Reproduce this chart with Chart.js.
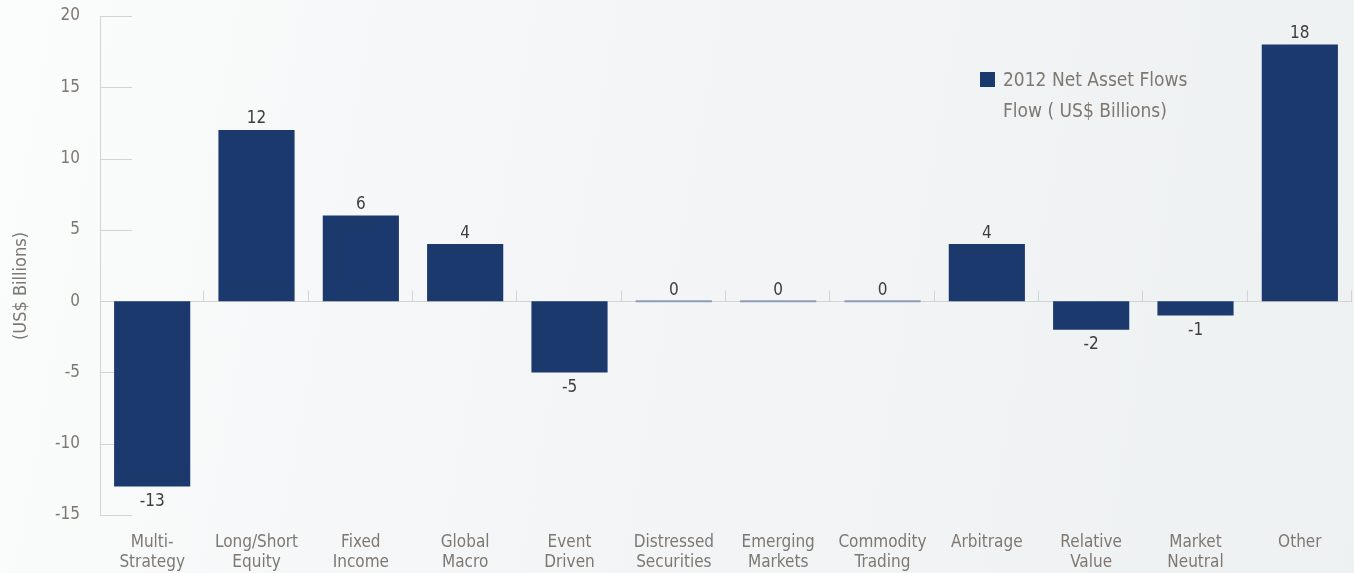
<!DOCTYPE html>
<html>
<head>
<meta charset="utf-8">
<script src="https://cdn.jsdelivr.net/npm/chart.js@4/dist/chart.umd.min.js"></script>
<style>
  html, body { margin: 0; padding: 0; }
  body {
    width: 1354px; height: 573px; overflow: hidden;
    background: linear-gradient(100deg, #fbfcfc 0%, #f3f5f6 45%, #eef1f2 100%);
  }
  #wrap { position: relative; width: 1354px; height: 573px; }
</style>
</head>
<body>
<div id="wrap"><canvas id="flowChart" width="1354" height="573"></canvas></div>
<script>
// data
const categories = [
  ["Multi-", "Strategy"], ["Long/Short", "Equity"], ["Fixed", "Income"], ["Global", "Macro"],
  ["Event", "Driven"], ["Distressed", "Securities"], ["Emerging", "Markets"], ["Commodity", "Trading"],
  ["Arbitrage"], ["Relative", "Value"], ["Market", "Neutral"], ["Other"]
];
const netFlows = [-13, 12, 6, 4, -5, 0, 0, 0, 4, -2, -1, 18];
const seriesLabel = ["2012 Net Asset Flows", "Flow ( US$ Billions)"];
const yTicks = [-15, -10, -5, 0, 5, 10, 15, 20];

const FONT = "'Liberation Sans Narrow', 'DejaVu Sans Condensed', sans-serif";
const NAVY = "#1c396d";
const GREY = "#7e7873";

// short tick lines on the y axis, zero line and category ticks on it
const axisLines = {
  id: "axisLines",
  beforeDatasetsDraw(chart) {
    const { ctx, chartArea, scales } = chart;
    const y = scales.y;
    ctx.save();
    ctx.strokeStyle = "#d3d3d3";
    ctx.lineWidth = 1;
    y.ticks.forEach(t => {
      const py = Math.round(y.getPixelForValue(t.value)) + 0.5;
      ctx.beginPath();
      ctx.moveTo(chartArea.left, py);
      ctx.lineTo(chartArea.left + 32, py);
      ctx.stroke();
    });
    const y0 = Math.round(y.getPixelForValue(0)) + 0.5;
    ctx.beginPath();
    ctx.moveTo(chartArea.left, y0);
    ctx.lineTo(chartArea.right, y0);
    ctx.stroke();
    const n = categories.length;
    const w = (chartArea.right - chartArea.left) / n;
    for (let i = 1; i <= n; i++) {
      const px = Math.round(chartArea.left + i * w) - 0.5;
      ctx.beginPath();
      ctx.moveTo(px, y0);
      ctx.lineTo(px, y0 - 11);
      ctx.stroke();
    }
    ctx.restore();
  }
};

// value labels, the two-line legend and the y title
const labelsAndLegend = {
  id: "labelsAndLegend",
  afterDatasetsDraw(chart) {
    const { ctx } = chart;
    const meta = chart.getDatasetMeta(0);
    const y0 = chart.scales.y.getPixelForValue(0);
    ctx.save();
    ctx.font = "17px " + FONT;
    ctx.fillStyle = "#3d3d3d";
    ctx.textAlign = "center";
    ctx.textBaseline = "middle";
    meta.data.forEach((bar, i) => {
      const v = netFlows[i];
      let py;
      if (v > 0) py = bar.y - 11;
      else if (v < 0) py = bar.y + 15;
      else py = y0 - 11;
      ctx.fillText(String(v), bar.x, py);
    });

    ctx.fillStyle = NAVY;
    ctx.fillRect(980, 72, 15, 15);
    ctx.font = "19px " + FONT;
    ctx.fillStyle = GREY;
    ctx.textAlign = "left";
    seriesLabel.forEach((line, k) => ctx.fillText(line, 1003, 81 + k * 31));

    ctx.translate(21, 286);
    ctx.rotate(-Math.PI / 2);
    ctx.textAlign = "center";
    ctx.font = "18px " + FONT;
    ctx.fillText("(US$ Billions)", 0, 0);
    ctx.restore();
  }
};

new Chart(document.getElementById("flowChart"), {
  type: "bar",
  data: {
    labels: categories,
    datasets: [{
      label: seriesLabel.join(" "),
      data: netFlows,
      backgroundColor: c => (c.raw === 0 ? "#8e9db9" : NAVY),
      barPercentage: 0.73,
      categoryPercentage: 1,
      minBarLength: 2
    }]
  },
  options: {
    responsive: false,
    animation: false,
    layout: { padding: { top: 16, right: 2, left: 0, bottom: 0 } },
    plugins: {
      legend: { display: false },
      tooltip: { enabled: false }
    },
    scales: {
      x: {
        afterFit: s => { s.height = 58; },
        grid: { display: false, drawTicks: false },
        border: { display: false },
        ticks: {
          color: GREY,
          font: { family: FONT, size: 17, lineHeight: 1.2 },
          padding: 17,
          maxRotation: 0,
          autoSkip: false
        }
      },
      y: {
        min: -15,
        max: 20,
        afterFit: s => { s.width = 100; s.paddingTop = 0; s.paddingBottom = 0; },
        afterBuildTicks: s => { s.ticks = yTicks.map(v => ({ value: v })); },
        grid: { display: false, drawTicks: false },
        border: { display: true, color: "#d3d3d3" },
        ticks: {
          color: GREY,
          font: { family: FONT, size: 17 },
          padding: 20,
          autoSkip: false
        }
      }
    }
  },
  plugins: [axisLines, labelsAndLegend]
});
</script>
</body>
</html>
